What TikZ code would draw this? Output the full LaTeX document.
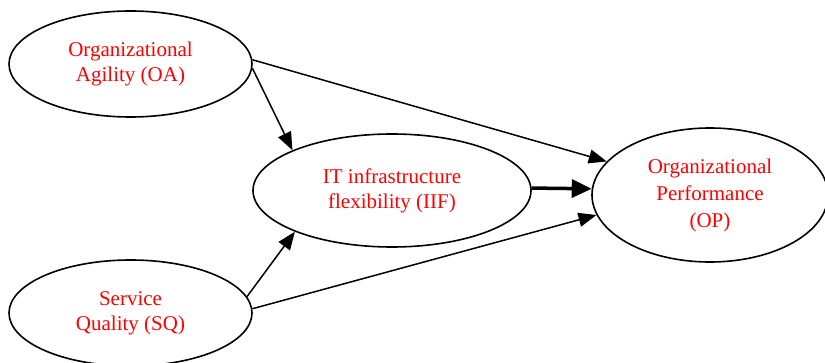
\documentclass[tikz,border=0pt]{standalone}
\usepackage{fontspec}
\setmainfont{Liberation Serif}
\usetikzlibrary{shapes.geometric,arrows.meta}
\begin{document}
\begin{tikzpicture}[x=1pt,y=-1pt,
  construct/.style={ellipse,draw=black,line width=1.6pt,inner sep=0pt,
    text=red,align=center,font=\fontsize{21}{25}\selectfont},
  link/.style={line width=1.5pt,-{Triangle[length=18pt,width=14pt]}},
  strong/.style={line width=3.5pt,-{Triangle[length=20pt,width=18pt]}}]
\useasboundingbox (0,0) rectangle (825,363);
\node[construct,minimum width=243pt,minimum height=106pt] (oa) at (130.5,64) {Organizational\\Agility (OA)};
\node[construct,minimum width=278pt,minimum height=113pt] (iif) at (392,190.5) {IT infrastructure\\flexibility (IIF)};
\node[construct,minimum width=236pt,minimum height=134pt,font=\fontsize{21}{27}\selectfont] (op) at (710,195) {Organizational\\Performance\\(OP)};
\node[construct,minimum width=243pt,minimum height=106pt] (sq) at (130.5,313) {Service\\Quality (SQ)};
\draw[link] (oa.-2) -- (iif.158);
\draw[link] (oa.2) -- (op.162);
\draw[link] (sq.8) -- (iif.203);
\draw[link] (sq.2) -- (op.190);
\draw[strong] (iif.1) -- (op.177);
\end{tikzpicture}
\end{document}
